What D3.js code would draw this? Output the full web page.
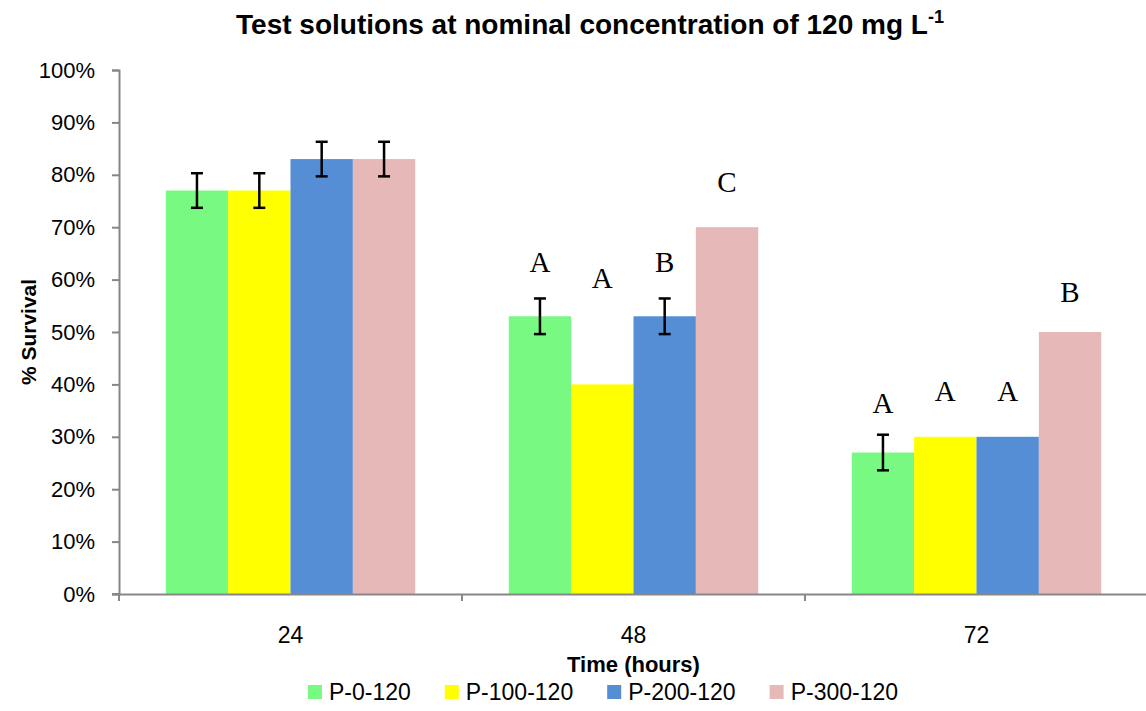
<!DOCTYPE html>
<html>
<head>
<meta charset="utf-8">
<script src="https://cdn.jsdelivr.net/npm/d3@7"></script>
<style>
  body { margin: 0; background: #fff; }
  text { font-family: "Liberation Sans", Arial, sans-serif; fill: #000; }
</style>
</head>
<body>
<div id="wrapper"></div>
<script>
const times = ["24", "48", "72"]
const series = ["P-0-120", "P-100-120", "P-200-120", "P-300-120"]
const colors = ["#78f981", "#ffff00", "#558ed5", "#e6b8b7"]

// % survival per series, in order of times
const p0 = [77, 53, 27]
const p100 = [77, 40, 30]
const p200 = [83, 53, 30]
const p300 = [83, 70, 50]

// error bar half-widths (null = no bar)
const p0Err = [3.3, 3.4, 3.4]
const p100Err = [3.3, null, null]
const p200Err = [3.3, 3.4, null]
const p300Err = [3.3, null, null]

// significance letters and the % level of their baseline
const p0Letter = [null, "A", "A"]
const p100Letter = [null, "A", "A"]
const p200Letter = [null, "B", "A"]
const p300Letter = [null, "C", "B"]
const p0LetterAt = [null, 61.5, 34.6]
const p100LetterAt = [null, 58.4, 36.8]
const p200LetterAt = [null, 61.5, 36.8]
const p300LetterAt = [null, 76.7, 55.8]

const yTicks = [0, 10, 20, 30, 40, 50, 60, 70, 80, 90, 100]

const values = [p0, p100, p200, p300]
const errs = [p0Err, p100Err, p200Err, p300Err]
const letters = [p0Letter, p100Letter, p200Letter, p300Letter]
const letterAt = [p0LetterAt, p100LetterAt, p200LetterAt, p300LetterAt]

const rows = []
series.forEach((s, si) => {
  times.forEach((t, ti) => {
    rows.push({
      series: s, time: t, value: values[si][ti], err: errs[si][ti],
      letter: letters[si][ti], letterAt: letterAt[si][ti]
    })
  })
})

const dimensions = {
  width: 1146,
  height: 711,
  margin: { top: 70, right: -2, bottom: 117, left: 119 }
}
const plotW = dimensions.width - dimensions.margin.left - dimensions.margin.right
const plotH = dimensions.height - dimensions.margin.top - dimensions.margin.bottom

const svg = d3.select("#wrapper")
  .append("svg")
    .attr("width", dimensions.width)
    .attr("height", dimensions.height)

const bounds = svg.append("g")
  .attr("transform", `translate(${dimensions.margin.left},${dimensions.margin.top})`)

const x0 = d3.scaleBand().domain(times).range([0, plotW]).padding(0)
const x1 = d3.scaleBand().domain(series).range([0, x0.bandwidth()])
  .paddingInner(0).paddingOuter(0.75)
const y = d3.scaleLinear().domain([0, 100]).range([plotH, 0])
const color = d3.scaleOrdinal().domain(series).range(colors)

// bars
bounds.append("g").selectAll("rect")
  .data(rows)
  .enter().append("rect")
    .attr("x", d => x0(d.time) + x1(d.series))
    .attr("y", d => y(d.value))
    .attr("width", x1.bandwidth())
    .attr("height", d => y(0) - y(d.value))
    .attr("fill", d => color(d.series))

// error bars
const errRows = rows.filter(d => d.err != null)
const eb = bounds.append("g").attr("stroke", "#000").attr("stroke-width", 2.5)
errRows.forEach(d => {
  const cx = x0(d.time) + x1(d.series) + x1.bandwidth() / 2
  const top = y(d.value + d.err), bot = y(d.value - d.err)
  eb.append("line").attr("x1", cx).attr("x2", cx).attr("y1", top).attr("y2", bot)
  eb.append("line").attr("x1", cx - 6).attr("x2", cx + 6).attr("y1", top).attr("y2", top)
  eb.append("line").attr("x1", cx - 6).attr("x2", cx + 6).attr("y1", bot).attr("y2", bot)
})

// letters
bounds.append("g").selectAll("text")
  .data(rows.filter(d => d.letter))
  .enter().append("text")
    .attr("x", d => x0(d.time) + x1(d.series) + x1.bandwidth() / 2)
    .attr("y", d => y(d.letterAt))
    .attr("text-anchor", "middle")
    .style("font-family", "'Liberation Serif', 'Times New Roman', serif")
    .style("font-size", "29px")
    .text(d => d.letter)

// y axis
const yAxis = bounds.append("g")
  .call(d3.axisLeft(y).tickValues(yTicks).tickFormat(d => d + "%").tickSize(7).tickPadding(17))
yAxis.selectAll("text").style("font-size", "22px").style("font-family", "'Liberation Sans', Arial, sans-serif")

// x axis
const xAxis = bounds.append("g")
  .attr("transform", `translate(0,${plotH})`)
  .call(d3.axisBottom(x0).tickSize(0).tickPadding(33))
xAxis.selectAll("text").style("font-size", "23px").style("font-family", "'Liberation Sans', Arial, sans-serif")
xAxis.append("g").selectAll("line")
  .data(times.map(t => x0(t)).concat([plotW]))
  .enter().append("line")
    .attr("x1", d => d).attr("x2", d => d)
    .attr("y1", 0).attr("y2", 7)
xAxis.append("line").attr("x1", -7).attr("x2", 0).attr("y1", 0).attr("y2", 0)

svg.selectAll(".domain, .tick line, g line").filter(function () {
  return !this.closest("g[stroke='#000']")
}).attr("stroke", "#878787").attr("stroke-width", 2)
svg.selectAll(".domain").attr("stroke", "#878787").attr("stroke-width", 2)

// title
const title = svg.append("text")
  .attr("x", 590)
  .attr("y", 34)
  .attr("text-anchor", "middle")
  .style("font-weight", "bold")
  .style("font-size", "28px")
title.append("tspan").text("Test solutions at nominal concentration of 120 mg L")
title.append("tspan").attr("dy", -11).style("font-size", "18px").text("-1")

// axis titles
svg.append("text")
  .attr("transform", `translate(36,${dimensions.margin.top + plotH / 2}) rotate(-90)`)
  .attr("text-anchor", "middle")
  .style("font-weight", "bold")
  .style("font-size", "21px")
  .text("% Survival")

svg.append("text")
  .attr("x", dimensions.margin.left + plotW / 2)
  .attr("y", 672)
  .attr("text-anchor", "middle")
  .style("font-weight", "bold")
  .style("font-size", "22px")
  .text("Time (hours)")

// legend
const legend = svg.append("g")
let lx = 0
series.forEach((s, i) => {
  const item = legend.append("g").attr("transform", `translate(${lx},0)`)
  item.append("rect").attr("x", 0).attr("y", 685).attr("width", 14).attr("height", 14)
    .attr("fill", color(s))
  const t = item.append("text").attr("x", 21).attr("y", 700)
    .style("font-size", "23px").text(s)
  lx += 21 + t.node().getComputedTextLength() + 34
})
const legendW = lx - 34
legend.attr("transform", `translate(${603 - legendW / 2},0)`)
</script>
</body>
</html>
